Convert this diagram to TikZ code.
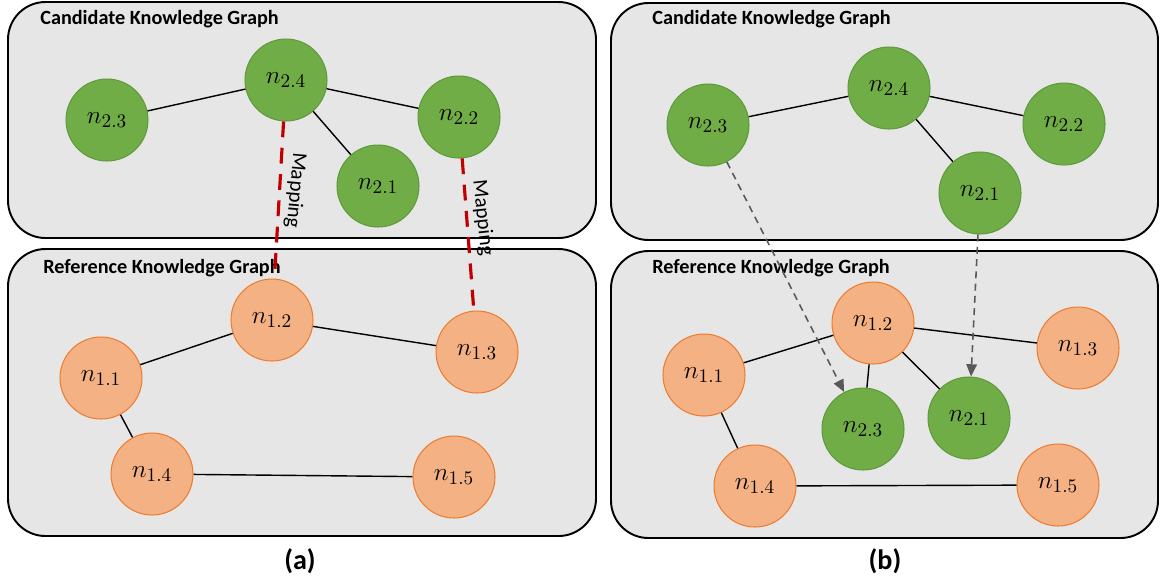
\documentclass[tikz,border=0pt]{standalone}
\usepackage{fontspec}
\setmainfont{Carlito}
\usetikzlibrary{arrows.meta}
\definecolor{boxgray}{HTML}{E6E6E6}
\definecolor{gfill}{HTML}{70AD47}
\definecolor{gdraw}{HTML}{5F9A3C}
\definecolor{ofill}{HTML}{F4B183}
\definecolor{odraw}{HTML}{ED7D31}
\definecolor{mapred}{HTML}{C00000}
\definecolor{arrgray}{HTML}{595959}
\tikzset{
  panel/.style={draw=black, line width=1.1pt, fill=boxgray, rounded corners=0.75cm},
  gnode/.style={circle, fill=gfill, draw=gdraw, line width=0.6pt, minimum size=1.64cm, inner sep=0pt, font=\fontsize{15}{17}\selectfont},
  onode/.style={circle, fill=ofill, draw=odraw, line width=0.6pt, minimum size=1.64cm, inner sep=0pt, font=\fontsize{15}{17}\selectfont},
  edge/.style={draw=black, line width=0.8pt},
  mapline/.style={draw=mapred, line width=1.8pt, dash pattern=on 9pt off 6pt},
  maplabel/.style={font=\fontsize{12}{14}\selectfont, anchor=south, inner sep=3pt, text=black},
  movearrow/.style={draw=arrgray, line width=0.9pt, dash pattern=on 4pt off 3pt, -{Triangle[length=7pt,width=6pt]}},
  title/.style={anchor=west, font=\bfseries\fontsize{11.5}{13}\selectfont, inner sep=0pt},
  caption/.style={font=\bfseries\fontsize{16}{18}\selectfont, inner sep=0pt}
}
\begin{document}
\begin{tikzpicture}[x=0.02cm, y=-0.02cm]
\useasboundingbox (0,0) rectangle (1165,583);
% panels
\path[panel] (8,2) rectangle (596,238);
\path[panel] (8,249) rectangle (596,536);
\path[panel] (611,3) rectangle (1158,240);
\path[panel] (611,251) rectangle (1158,538);
% titles
\node[title] (tca) at (40,19) {Candidate Knowledge Graph};
\node[title] (tra) at (43,268) {Reference Knowledge Graph};
\node[title] (tcb) at (652,19) {Candidate Knowledge Graph};
\node[title] (trb) at (652,268) {Reference Knowledge Graph};
% (a) nodes
\node[gnode] (a23) at (107,120) {$n_{2.3}$};
\node[gnode] (a24) at (286,80) {$n_{2.4}$};
\node[gnode] (a21) at (378,186) {$n_{2.1}$};
\node[gnode] (a22) at (459,117) {$n_{2.2}$};
\node[onode] (a12) at (272,320) {$n_{1.2}$};
\node[onode] (a11) at (101,378) {$n_{1.1}$};
\node[onode] (a13) at (477,352) {$n_{1.3}$};
\node[onode] (a14) at (152,474) {$n_{1.4}$};
\node[onode] (a15) at (454,477) {$n_{1.5}$};
\draw[edge] (a23) -- (a24);
\draw[edge] (a24) -- (a22);
\draw[edge] (a24) -- (a21);
\draw[edge] (a11) -- (a12);
\draw[edge] (a12) -- (a13);
\draw[edge] (a11) -- (a14);
\draw[edge] (a14) -- (a15);
\draw[mapline] (a24) -- node[maplabel, pos=0.43, rotate=-95] (ml1) {Mapping} (a12);
\draw[mapline] (a22) -- node[maplabel, pos=0.4, rotate=-84] (ml2) {Mapping} (a13);
% (b) nodes
\node[gnode] (b23) at (708,125) {$n_{2.3}$};
\node[gnode] (b24) at (889,88) {$n_{2.4}$};
\node[gnode] (b22) at (1064,124) {$n_{2.2}$};
\node[gnode] (b21) at (980,193) {$n_{2.1}$};
\node[onode] (b12) at (873,323) {$n_{1.2}$};
\node[onode] (b11) at (704,375) {$n_{1.1}$};
\node[onode] (b13) at (1078,348) {$n_{1.3}$};
\node[gnode] (c23) at (863,429) {$n_{2.3}$};
\node[gnode] (c21) at (969,418) {$n_{2.1}$};
\node[onode] (b14) at (755,486) {$n_{1.4}$};
\node[onode] (b15) at (1058,485) {$n_{1.5}$};
\draw[edge] (b23) -- (b24);
\draw[edge] (b24) -- (b22);
\draw[edge] (b24) -- (b21);
\draw[edge] (b11) -- (b12);
\draw[edge] (b12) -- (b13);
\draw[edge] (b12) -- (c23);
\draw[edge] (b12) -- (c21);
\draw[edge] (b11) -- (b14);
\draw[edge] (b14) -- (b15);
\draw[movearrow] (b23) -- (c23);
\draw[movearrow] (b21) -- (c21);
% captions
\node[caption] (capa) at (300,561) {(a)};
\node[caption] (capb) at (885,561) {(b)};
\end{tikzpicture}
\end{document}
